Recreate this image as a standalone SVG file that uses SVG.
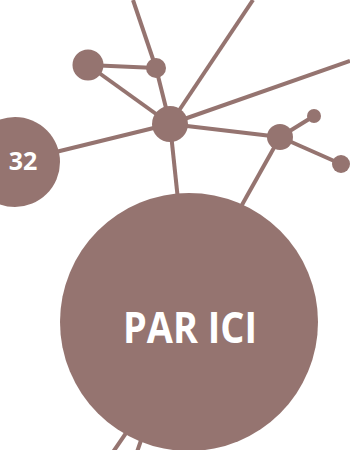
<svg xmlns="http://www.w3.org/2000/svg" width="350" height="450" viewBox="0 0 350 450">
<style>
.n{fill:#957470}
.c line{stroke:#957470;stroke-width:4;stroke-linecap:butt}
.t{fill:#fff;font-family:"Open Sans","Liberation Sans",sans-serif;font-weight:bold;text-anchor:middle}
</style>
<rect width="350" height="450" fill="#fff"/>
<g class="c" id="connectors">
<line x1="133" y1="0" x2="156" y2="68"/>
<line x1="156" y1="68" x2="170" y2="124"/>
<line x1="88" y1="65" x2="156" y2="68"/>
<line x1="88" y1="65" x2="170" y2="124"/>
<line x1="253" y1="0" x2="170" y2="124"/>
<line x1="350" y1="61" x2="170" y2="124"/>
<line x1="170" y1="124" x2="280" y2="137"/>
<line x1="15" y1="162" x2="170" y2="124"/>
<line x1="170" y1="124" x2="178" y2="200"/>
<line x1="280" y1="137" x2="314" y2="116"/>
<line x1="280" y1="137" x2="341" y2="164"/>
<line x1="280" y1="137" x2="238" y2="212"/>
<line x1="113" y1="452" x2="135" y2="420"/>
<line x1="137" y1="452" x2="148" y2="420"/>
</g>
<g id="n-hub"><circle class="n" cx="170" cy="124" r="18"/></g>
<g id="n-top"><circle class="n" cx="156" cy="68" r="10"/></g>
<g id="n-left"><circle class="n" cx="88" cy="65" r="15.5"/></g>
<g id="n-right"><circle class="n" cx="280" cy="137" r="13"/></g>
<g id="n-small"><circle class="n" cx="314" cy="116" r="7"/></g>
<g id="n-far"><circle class="n" cx="341" cy="164" r="9"/></g>
<g id="n-32"><circle class="n" cx="15" cy="162" r="45"/><text class="t" x="23" y="170" font-size="25">32</text></g>
<g id="n-main"><circle class="n" cx="189" cy="322" r="129"/><text class="t" x="190" y="343" font-size="43" textLength="134" lengthAdjust="spacingAndGlyphs">PAR ICI</text></g>
</svg>
